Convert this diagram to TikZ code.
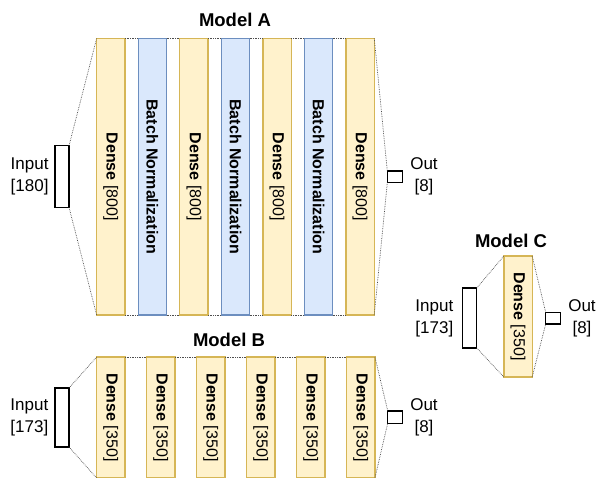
\documentclass[tikz,border=0pt]{standalone}
\usepackage{fontspec}
\setmainfont{Liberation Sans}
\usepackage[HTML]{xcolor}
\usepackage{tikz}
\usetikzlibrary{positioning}

\definecolor{denseFill}{HTML}{FFF2CC}
\definecolor{denseLine}{HTML}{D6B656}
\definecolor{normFill}{HTML}{DAE8FC}
\definecolor{normLine}{HTML}{6C8EBF}

\begin{document}
\begin{tikzpicture}[
    x=1pt, y=-1pt, % picture measured in pixels, y pointing down
    every node/.style={inner sep=0pt, outer sep=0pt},
    densebox/.style={draw=denseLine, fill=denseFill, line width=1.3pt, minimum width=28.3},
    normbox/.style={draw=normLine, fill=normFill, line width=1.3pt, minimum width=28.3},
    boxtext/.style={rotate=-90, font=\fontsize{16}{19}\selectfont},
    iobox/.style={draw=black, fill=white, line width=1.3pt},
    iotext/.style={align=center, font=\fontsize{17}{22}\selectfont},
    title/.style={font=\bfseries\fontsize{18.5}{22}\selectfont},
    fanline/.style={densely dotted, draw=black!70, line width=0.7pt}
]
    \useasboundingbox (0,0) rectangle (600,477);

    % 1. Model A: layers
    \node[title] (titleA) at (235,20) {Model A};
    \node[densebox, minimum height=276.7, label={[boxtext]center:{\textbf{Dense} [800]}}] (A1) at (110.8,176.7) {};
    \node[normbox,  minimum height=276.7, label={[boxtext]center:{\textbf{Batch Normalization}}}] (A2) at (152.4,176.7) {};
    \node[densebox, minimum height=276.7, label={[boxtext]center:{\textbf{Dense} [800]}}] (A3) at (193.9,176.7) {};
    \node[normbox,  minimum height=276.7, label={[boxtext]center:{\textbf{Batch Normalization}}}] (A4) at (235.5,176.7) {};
    \node[densebox, minimum height=276.7, label={[boxtext]center:{\textbf{Dense} [800]}}] (A5) at (277,176.7) {};
    \node[normbox,  minimum height=276.7, label={[boxtext]center:{\textbf{Batch Normalization}}}] (A6) at (318.6,176.7) {};
    \node[densebox, minimum height=276.7, label={[boxtext]center:{\textbf{Dense} [800]}}] (A7) at (360.1,176.7) {};

    % Model A: input and output
    \node[iobox, minimum width=14, minimum height=61.5] (inA) at (62,176.5) {};
    \node[iotext, left=6.5 of inA] (inAtext) {Input\\{[180]}};
    \node[iobox, minimum width=15, minimum height=11.7] (outA) at (394.8,176.8) {};
    \node[iotext, right=8 of outA] (outAtext) {Out\\{[8]}};

    % Model A: dotted fan lines
    \draw[fanline] (inA.north east) -- (A1.north west)
                   (inA.south east) -- (A1.south west);
    \draw[fanline] (A1.north east) -- (A2.north west) (A2.north east) -- (A3.north west)
                   (A3.north east) -- (A4.north west) (A4.north east) -- (A5.north west)
                   (A5.north east) -- (A6.north west) (A6.north east) -- (A7.north west);
    \draw[fanline] (A1.south east) -- (A2.south west) (A2.south east) -- (A3.south west)
                   (A3.south east) -- (A4.south west) (A4.south east) -- (A5.south west)
                   (A5.south east) -- (A6.south west) (A6.south east) -- (A7.south west);
    \draw[fanline] (A7.north east) -- (outA.north west)
                   (A7.south east) -- (outA.south west);

    % 2. Model B: layers
    \node[title] (titleB) at (229,340) {Model B};
    \node[densebox, minimum height=121, label={[boxtext]center:{\textbf{Dense} [350]}}] (B1) at (110.8,417.5) {};
    \node[densebox, minimum height=121, label={[boxtext]center:{\textbf{Dense} [350]}}] (B2) at (160.8,417.5) {};
    \node[densebox, minimum height=121, label={[boxtext]center:{\textbf{Dense} [350]}}] (B3) at (210.8,417.5) {};
    \node[densebox, minimum height=121, label={[boxtext]center:{\textbf{Dense} [350]}}] (B4) at (260.8,417.5) {};
    \node[densebox, minimum height=121, label={[boxtext]center:{\textbf{Dense} [350]}}] (B5) at (310.8,417.5) {};
    \node[densebox, minimum height=121, label={[boxtext]center:{\textbf{Dense} [350]}}] (B6) at (360.8,417.5) {};

    % Model B: input and output
    \node[iobox, minimum width=14, minimum height=59] (inB) at (62,417.5) {};
    \node[iotext, left=6.7 of inB] (inBtext) {Input\\{[173]}};
    \node[iobox, minimum width=14.6, minimum height=12.3] (outB) at (395,417) {};
    \node[iotext, right=8 of outB] (outBtext) {Out\\{[8]}};

    % Model B: dotted fan lines
    \draw[fanline] (inB.north east) -- (B1.north west)
                   (inB.south east) -- (B1.south west);
    \draw[fanline] (B1.north east) -- (B2.north west) (B2.north east) -- (B3.north west)
                   (B3.north east) -- (B4.north west) (B4.north east) -- (B5.north west)
                   (B5.north east) -- (B6.north west);
    \draw[fanline] (B6.north east) -- (outB.north west)
                   (B6.south east) -- (outB.south west);

    % 3. Model C: single layer
    \node[title] (titleC) at (511,241) {Model C};
    \node[densebox, minimum height=121, label={[boxtext]center:{\textbf{Dense} [350]}}] (C1) at (518,316.5) {};
    \node[iobox, minimum width=14.4, minimum height=60] (inC) at (469.5,318) {};
    \node[iotext, left=9 of inC] (inCtext) {Input\\{[173]}};
    \node[iobox, minimum width=15, minimum height=11.7] (outC) at (553.2,318.2) {};
    \node[iotext, right=7.6 of outC] (outCtext) {Out\\{[8]}};

    % Model C: dotted fan lines
    \draw[fanline] (inC.north east) -- (C1.north west)
                   (inC.south east) -- (C1.south west);
    \draw[fanline] (C1.north east) -- (outC.north west)
                   (C1.south east) -- (outC.south west);
\end{tikzpicture}
\end{document}
